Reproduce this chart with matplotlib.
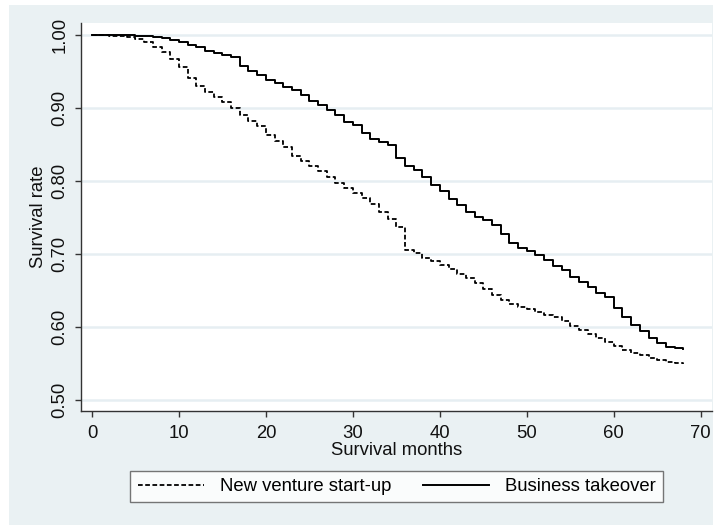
import matplotlib
matplotlib.use('Agg')
from matplotlib import pyplot as plt
from matplotlib.patches import Rectangle

plt.rcParams['font.family'] = ['Liberation Sans', 'DejaVu Sans']

# survival months (step at each month)
months = list(range(0, 69))

takeover = [1.000, 1.000, 1.000, 1.000, 1.000, 0.999, 0.998, 0.997, 0.996, 0.993,
            0.990, 0.986, 0.983, 0.978, 0.975, 0.973, 0.970, 0.957, 0.950, 0.945,
            0.939, 0.934, 0.929, 0.925, 0.918, 0.910, 0.904, 0.897, 0.890, 0.881,
            0.877, 0.866, 0.858, 0.854, 0.849, 0.831, 0.820, 0.815, 0.806, 0.795,
            0.786, 0.775, 0.767, 0.758, 0.751, 0.747, 0.740, 0.727, 0.715, 0.708,
            0.704, 0.699, 0.692, 0.684, 0.678, 0.668, 0.661, 0.655, 0.646, 0.641,
            0.626, 0.614, 0.603, 0.594, 0.585, 0.578, 0.573, 0.571, 0.570]

startup = [1.000, 1.000, 0.999, 0.998, 0.997, 0.995, 0.990, 0.983, 0.976, 0.967,
           0.956, 0.941, 0.930, 0.922, 0.915, 0.908, 0.900, 0.891, 0.882, 0.875,
           0.863, 0.855, 0.847, 0.834, 0.827, 0.821, 0.813, 0.805, 0.797, 0.790,
           0.784, 0.776, 0.768, 0.758, 0.748, 0.737, 0.706, 0.702, 0.695, 0.690,
           0.685, 0.679, 0.673, 0.667, 0.660, 0.652, 0.644, 0.637, 0.631, 0.627,
           0.624, 0.620, 0.617, 0.613, 0.608, 0.601, 0.596, 0.590, 0.585, 0.580,
           0.574, 0.569, 0.565, 0.561, 0.558, 0.555, 0.552, 0.550, 0.549]

xticks = [0, 10, 20, 30, 40, 50, 60, 70]
yticks = [0.50, 0.60, 0.70, 0.80, 0.90, 1.00]

bg = '#eaf1f3'
fs = 13.3
W, H = 717, 525
fig = plt.figure(figsize=(W / 100, H / 100), dpi=100, facecolor='white')
fig.patches.append(Rectangle((9 / W, 0), 704 / W, 520 / H, transform=fig.transFigure,
                             facecolor=bg, edgecolor='none', zorder=-10))

ax = fig.add_axes([81 / W, 1 - 411 / H, 631 / W, 388 / H])
ax.set_facecolor('white')

ax.plot(months, startup, drawstyle='steps-post', color='black', lw=1.3,
        linestyle=(0, (2.6, 1.4)), label='New venture start-up')
ax.plot(months, takeover, drawstyle='steps-post', color='black', lw=1.4,
        label='Business takeover')

ax.set_xlim(-1.26, 71.3)
ax.set_ylim(0.4849, 1.0164)
ax.set_xticks(xticks)
ax.set_yticks(yticks)
ax.set_yticklabels(['%.2f' % v for v in yticks], rotation=90, va='center')
ax.tick_params(axis='both', direction='out', length=4, width=1, color='#333333',
               labelsize=fs, labelcolor='#111111')
ax.tick_params(axis='y', pad=5)
ax.tick_params(axis='x', pad=6)
ax.grid(axis='y', color='#e6eef2', lw=1.8)
ax.set_axisbelow(True)
for s in ['top', 'right']:
    ax.spines[s].set_visible(False)
for s in ['left', 'bottom']:
    ax.spines[s].set_color('#333333')
    ax.spines[s].set_linewidth(1)

ax.set_xlabel('Survival months', fontsize=fs, labelpad=0, color='#111111')
ax.set_ylabel('Survival rate', fontsize=fs, labelpad=3, color='#111111')

leg = fig.legend(loc='center', bbox_to_anchor=(396.5 / W, 1 - 486.5 / H), ncol=2,
                 fontsize=fs, frameon=True, fancybox=False, handlelength=3.6,
                 handletextpad=0.85, columnspacing=1.7, borderpad=0.4)
leg.get_frame().set_edgecolor('#555555')
leg.get_frame().set_linewidth(1)
leg.get_frame().set_facecolor('white')

fig.savefig('out.png', dpi=100, facecolor='white')
